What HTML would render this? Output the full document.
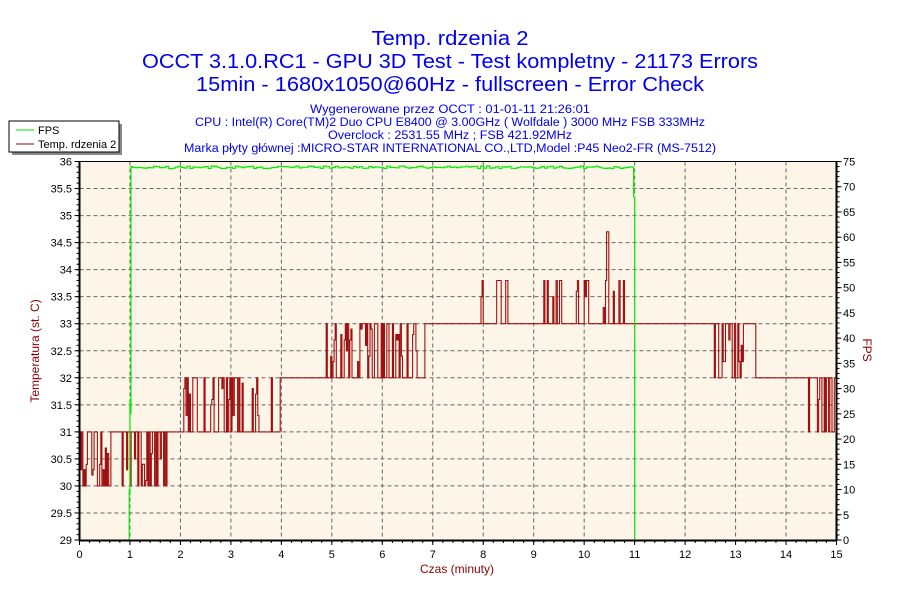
<!DOCTYPE html>
<html><head><meta charset="utf-8"><style>
html,body{margin:0;padding:0;background:#fff;}
svg{display:block;font-family:"Liberation Sans",sans-serif;}
</style></head><body>
<svg id="s" width="900" height="600" xmlns="http://www.w3.org/2000/svg">
<rect x="0" y="0" width="900" height="600" fill="#fff"/>
<g fill="#0000ee" text-anchor="middle">
<text x="450" y="45" font-size="20" textLength="157" lengthAdjust="spacingAndGlyphs">Temp. rdzenia 2</text>
<text x="450" y="68" font-size="20" textLength="616" lengthAdjust="spacingAndGlyphs">OCCT 3.1.0.RC1 - GPU 3D Test - Test kompletny - 21173 Errors</text>
<text x="450" y="91" font-size="20" textLength="508" lengthAdjust="spacingAndGlyphs">15min - 1680x1050@60Hz - fullscreen - Error Check</text>
<text x="450" y="113" font-size="11.5" textLength="280" lengthAdjust="spacingAndGlyphs">Wygenerowane przez OCCT : 01-01-11 21:26:01</text>
<text x="450" y="126" font-size="11.5" textLength="510" lengthAdjust="spacingAndGlyphs">CPU : Intel(R) Core(TM)2 Duo CPU E8400 @ 3.00GHz ( Wolfdale ) 3000 MHz FSB 333MHz</text>
<text x="450" y="139" font-size="11.5" textLength="244" lengthAdjust="spacingAndGlyphs">Overclock : 2531.55 MHz ; FSB 421.92MHz</text>
<text x="450" y="152" font-size="11.5" textLength="532" lengthAdjust="spacingAndGlyphs">Marka płyty głównej :MICRO-STAR INTERNATIONAL CO.,LTD,Model :P45 Neo2-FR (MS-7512)</text>
</g>
<rect x="12" y="124" width="110" height="31" fill="#888"/>
<rect x="9" y="121" width="110" height="31" fill="#fff" stroke="#000" stroke-width="1"/>
<line x1="16" y1="130" x2="34" y2="130" stroke="#00ee00"/>
<text x="38" y="134" font-size="11">FPS</text>
<line x1="16" y1="144" x2="34" y2="144" stroke="#8b0000"/>
<text x="38" y="148" font-size="11">Temp. rdzenia 2</text>
<rect x="79.5" y="161.5" width="757" height="378.5" fill="#fdf6e8"/>
<g id="grid" stroke="#666" stroke-dasharray="4,3" stroke-width="1"></g>
<g id="ticks" stroke="#000"></g>
<g id="labs" font-size="11" fill="#000"></g>
<path id="temp" fill="none" stroke="#a01010" stroke-width="1.1"/>
<path id="fps" fill="none" stroke="#00ee00" stroke-width="1.2"/>
<rect x="79.5" y="161.5" width="757" height="378.5" fill="none" stroke="#000" stroke-width="1"/>
<line x1="79.5" y1="161" x2="79.5" y2="541" stroke="#000" stroke-width="2"/>
<line x1="836.5" y1="161" x2="836.5" y2="541" stroke="#000" stroke-width="2"/>
<line x1="79" y1="540.5" x2="837" y2="540.5" stroke="#000" stroke-width="2"/>
<text transform="translate(39,351) rotate(-90)" text-anchor="middle" font-size="12" fill="#8b0000">Temperatura (st. C)</text>
<text transform="translate(863,350) rotate(90)" text-anchor="middle" font-size="12" fill="#8b0000">FPS</text>
<text x="457" y="573" text-anchor="middle" font-size="12" fill="#8b0000">Czas (minuty)</text>
</svg>
<script>
var NS="http://www.w3.org/2000/svg";
function el(p,t,a,txt){var e=document.createElementNS(NS,t);for(var k in a)e.setAttribute(k,a[k]);if(txt!==undefined)e.textContent=txt;document.getElementById(p).appendChild(e);}
var L=79.5,R=836.5,T=161.5,B=540;
function X(m){return L+(R-L)*m/15;}
function YT(t){return B-(B-T)*(t-29)/7;}
function YF(f){return B-(B-T)*f/75;}
for(var i=1;i<15;i++)el("grid","line",{x1:X(i),y1:T,x2:X(i),y2:B});
for(var i=1;i<14;i++){var y=B-(B-T)*i/14;el("grid","line",{x1:L,y1:y,x2:R,y2:y});}
for(var i=0;i<=14;i++){var y=B-(B-T)*i/14;var v=29+i*0.5;el("labs","text",{x:72,y:y+4,"text-anchor":"end"},String(v));el("ticks","line",{x1:L-5,y1:y,x2:L,y2:y});}
for(var i=0;i<=70;i++){var y=B-(B-T)*i/70;el("ticks","line",{x1:L-3,y1:y,x2:L,y2:y});}
for(var i=0;i<=15;i++){var y=B-(B-T)*i/15;el("labs","text",{x:843,y:y+4},String(i*5));el("ticks","line",{x1:R,y1:y,x2:R+5,y2:y});}
for(var i=0;i<=75;i++){var y=B-(B-T)*i/75;el("ticks","line",{x1:R,y1:y,x2:R+3,y2:y});}
for(var i=0;i<=15;i++){el("labs","text",{x:X(i),y:558,"text-anchor":"middle"},String(i));el("ticks","line",{x1:X(i),y1:B,x2:X(i),y2:B+5});}
for(var i=0;i<=75;i++){el("ticks","line",{x1:X(i/5),y1:B,x2:X(i/5),y2:B+3});}
var seed=4242;function rnd(){seed=(seed*1103515245+12345)%2147483648;return seed/2147483648;}
// [start,end,base,other,pLeave]
var seg=[[0,1.8,31,30,0.35],[1.8,2.05,31,31,0],[2.05,4.05,31,32,0.25],[4.05,4.85,32,32,0],[4.85,6.85,32,33,0.35],[6.85,7.6,33,33,0],[7.6,11,33,33.8,0.15],[11,12.45,33,33,0],[12.45,13.4,33,32,0.25],[13.4,14.45,32,32,0],[14.45,15,32,31,0.4]];
var d="",step=1/45,cur=31,away=false;
for(var m=0;m<=15.0001;m+=step){var s=seg[0];for(var k=0;k<seg.length;k++)if(m>=seg[k][0]&&m<seg[k][1])s=seg[k];
 var v;
 if(s[4]===0){v=s[2];away=false;}
 else if(!away){ if(rnd()<s[4]){away=true;} v=s[2];
   if(away){var r=rnd();v=r<0.55?s[3]:s[2]+(s[3]-s[2])*(0.3+0.6*rnd());}}
 else { if(rnd()<0.45){away=false;v=s[2];} else {var r=rnd();v=r<0.6?s[3]:s[2]+(s[3]-s[2])*(0.3+0.6*rnd());}}
 if(m>10.45&&m<10.5)v=34.7;
 v=Math.round(v*10)/10;
 var x=X(m),y=YT(v);
 if(d==="")d="M"+x.toFixed(1)+","+y.toFixed(1);else d+="V"+y.toFixed(1)+"H"+x.toFixed(1);}
document.getElementById("temp").setAttribute("d",d);
var f="M"+X(0.985)+","+B+"V"+YF(10)+"V"+YF(9)+"H"+X(1.0)+"V"+YF(28)+"V"+YF(25)+"H"+X(1.02)+"V"+YF(56)+"V"+YF(74)+"H"+X(1.05);
for(var m=1.05;m<10.97;m+=0.06){f+="V"+YF(73.6+0.5*rnd()).toFixed(1)+"H"+X(m).toFixed(1);}
f+="H"+X(10.98)+"V"+YF(68)+"H"+X(11)+"V"+YF(31)+"V"+B;
document.getElementById("fps").setAttribute("d",f);
</script>
</body></html>
